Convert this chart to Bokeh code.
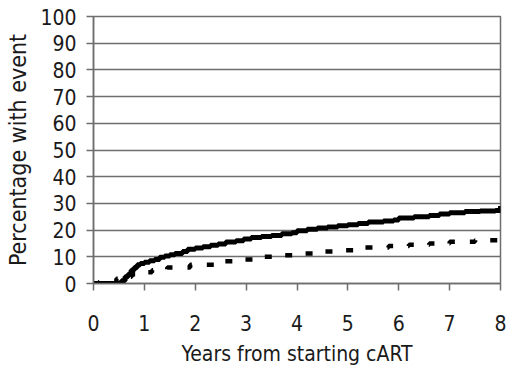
from bokeh.plotting import figure
from bokeh.models import Range1d, FixedTicker
from bokeh.embed import file_html
from bokeh.resources import INLINE

# Solid curve (step function): times (years) and cumulative percentage
solid_t = [0.0, 0.55, 0.62, 0.68, 0.74, 0.8, 0.86, 0.92, 1.0, 1.1, 1.2, 1.3, 1.4, 1.5, 1.6, 1.75, 1.85,
           2.0, 2.15, 2.3, 2.45, 2.6, 2.8, 2.95, 3.1, 3.3, 3.5, 3.7, 3.9, 4.0, 4.2, 4.4, 4.6, 4.8,
           5.0, 5.2, 5.4, 5.7, 5.9, 6.0, 6.3, 6.6, 6.8, 7.0, 7.3, 7.6, 7.9, 8.0]
solid_p = [0.0, 1.0, 2.5, 3.5, 5.0, 6.0, 7.0, 7.5, 8.0, 8.5, 9.0, 9.8, 10.3, 10.8, 11.2, 12.0, 12.8,
           13.3, 13.8, 14.3, 14.8, 15.5, 16.0, 16.7, 17.2, 17.6, 18.0, 18.6, 19.0, 19.8, 20.3, 20.8, 21.2, 21.6,
           22.0, 22.5, 23.0, 23.4, 23.8, 24.5, 25.0, 25.5, 26.0, 26.5, 27.0, 27.2, 27.3, 29.0]

# Dotted curve (step function)
dot_t = [0.0, 0.1, 0.45, 0.6, 0.75, 0.9, 1.15, 1.45, 1.9, 2.4, 2.8, 3.2, 3.6, 4.0, 4.5, 4.95,
         5.3, 5.8, 6.2, 6.6, 7.0, 7.5, 7.95, 8.0]
dot_p = [0.0, 0.5, 1.8, 2.5, 3.5, 4.2, 5.0, 6.0, 7.0, 8.3, 9.0, 10.0, 10.6, 11.2, 12.0, 12.5,
         13.5, 14.0, 14.5, 15.0, 15.6, 16.2, 16.5, 17.2]

x_ticks = [0, 1, 2, 3, 4, 5, 6, 7, 8]
y_ticks = [0, 10, 20, 30, 40, 50, 60, 70, 80, 90, 100]

p = figure(width=509, height=371, output_backend="svg", toolbar_location=None,
           x_range=Range1d(0, 8), y_range=Range1d(0, 100),
           min_border_left=93, min_border_right=9, min_border_top=16, min_border_bottom=88)

TICK_FONT = "DejaVu Sans Condensed"
GRID = "#6e6e6e"
TEXT = "#1a1a1a"

p.step(solid_t, solid_p, mode="after", line_color="black", line_width=5)
p.step(dot_t, dot_p, mode="after", line_color="black", line_width=4.5, line_dash="7 15")

p.xgrid.grid_line_color = None
p.ygrid.grid_line_color = GRID
p.ygrid.grid_line_width = 1.5
p.ygrid.ticker = FixedTicker(ticks=y_ticks)
p.outline_line_color = GRID
p.outline_line_width = 1.5
p.background_fill_color = "white"
p.border_fill_color = "white"

p.xaxis.ticker = FixedTicker(ticks=x_ticks)
p.yaxis.ticker = FixedTicker(ticks=y_ticks)
for ax in (p.xaxis, p.yaxis):
    ax.axis_line_color = GRID
    ax.axis_line_width = 1.5
    ax.major_tick_line_color = GRID
    ax.major_tick_line_width = 1.5
    ax.major_tick_in = 0
    ax.major_tick_out = 7
    ax.minor_tick_line_color = None
    ax.major_label_text_font = TICK_FONT
    ax.major_label_text_font_size = "21px"
    ax.major_label_text_color = TEXT
    ax.axis_label_text_font = TICK_FONT
    ax.axis_label_text_font_style = "normal"
    ax.axis_label_text_color = TEXT

p.xaxis.axis_label = "Years from starting cART"
p.yaxis.axis_label = "Percentage with event"
p.xaxis.axis_label_text_font_size = "21px"
p.yaxis.axis_label_text_font_size = "23px"
p.xaxis.major_label_standoff = 24
p.xaxis.axis_label_standoff = 8
p.yaxis.major_label_standoff = 10
p.yaxis.axis_label_standoff = 6

open("out.html", "w").write(file_html(p, INLINE))
